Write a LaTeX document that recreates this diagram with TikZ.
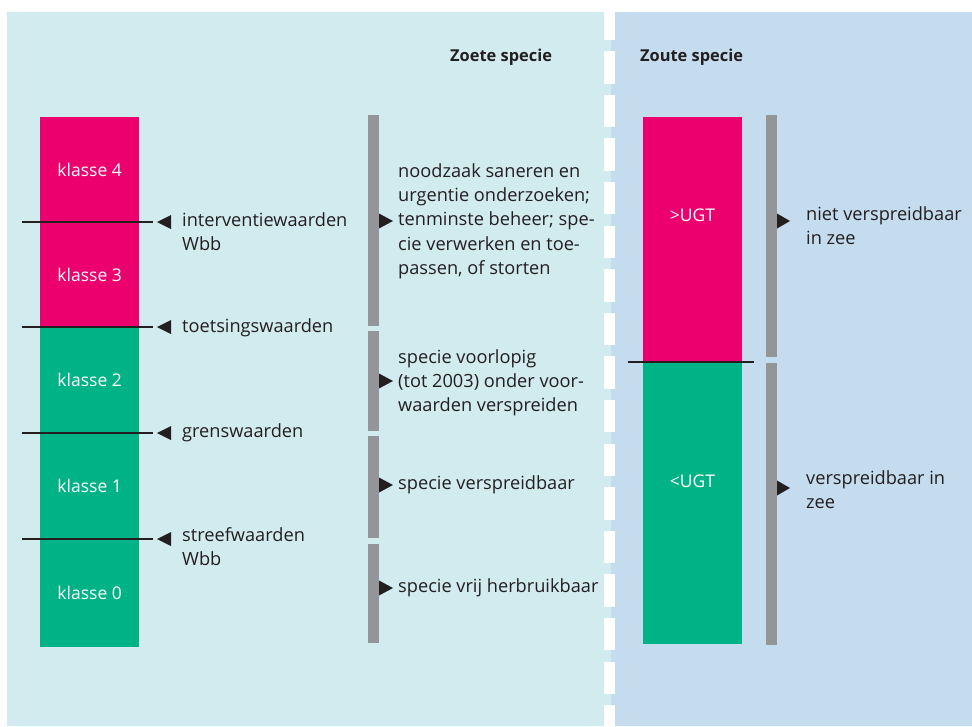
\documentclass[tikz,border=0pt]{standalone}
\usepackage{fontspec}
\setmainfont{Open Sans}
\definecolor{panelL}{HTML}{D2EBEF}
\definecolor{panelR}{HTML}{C5DBEE}
\definecolor{mag}{HTML}{EC006E}
\definecolor{grn}{HTML}{00B386}
\definecolor{gbar}{HTML}{939598}
\definecolor{ink}{HTML}{231F20}
\newcommand{\mylines}[1]{\begin{tabular}[t]{@{}l@{}}#1\end{tabular}}
\tikzset{
  seg/.style={minimum width=99pt, inner sep=0pt, text=white, font=\fontsize{17.5}{24}\selectfont},
  segtxt/.style={inner sep=0pt, text=white, font=\fontsize{17.5}{24}\selectfont},
  lbl/.style={anchor=base west, inner sep=0pt, text=ink, font=\fontsize{18.2}{24.2}\selectfont},
  head/.style={anchor=base west, inner sep=0pt, text=ink, font=\bfseries\fontsize{16.4}{20}\selectfont},
  thr/.style={ink, line width=2pt},
  tri/.style={fill=ink},
  gb/.style={fill=gbar}
}
\begin{document}
\begin{tikzpicture}[x=1pt,y=-1pt]
\path[use as bounding box] (0,0) rectangle (972,726);
\fill[panelL] (7,12) rectangle (611,726);
\fill[panelR] (611,12) rectangle (972,726);
\draw[white, line width=11pt, dash pattern=on 32.5pt off 11.1pt] (609.5,7.5) -- (609.5,726);
% headings
\node[head] (hz) at (450,61) {Zoete specie};
\node[head] (hzo) at (640,61) {Zoute specie};
% left bar
\node[seg, fill=mag, minimum height=105pt, anchor=north west] (k4) at (40,117) {klasse 4};
\node[seg, fill=mag, minimum height=105pt, anchor=north west] (k3) at (40,222) {klasse 3};
\node[seg, fill=grn, minimum height=106pt, anchor=north west] (k2) at (40,327) {klasse 2};
\node[seg, fill=grn, minimum height=106pt, anchor=north west] (k1) at (40,433) {klasse 1};
\node[seg, fill=grn, minimum height=108pt, anchor=north west] (k0) at (40,539) {klasse 0};
% thresholds
\foreach \y in {222,327,433,539}{
  \draw[thr] (22,\y) -- (153,\y);
  \fill[tri] (157,\y) -- (171,\y-7) -- (171,\y+7) -- cycle;
}
\node[lbl] (la) at (182,226) {\mylines{interventiewaarden\\Wbb}};
\node[lbl] (lb) at (182,332) {toetsingswaarden};
\node[lbl] (lc) at (182,437) {grenswaarden};
\node[lbl] (ld) at (182,541) {\mylines{streefwaarden\\Wbb}};
% zoete grey bar
\fill[gb] (368,115) rectangle (379,326);
\fill[gb] (368,331) rectangle (379,431);
\fill[gb] (368,436) rectangle (379,538);
\fill[gb] (368,544) rectangle (379,643);
\foreach \y in {221,381,485,588}{
  \fill[tri] (393,\y) -- (379,\y-7.5) -- (379,\y+7.5) -- cycle;
}
\node[lbl] (z1) at (398,177.5) {\mylines{noodzaak saneren en\\urgentie onderzoeken;\\tenminste beheer; spe-\\cie verwerken en toe-\\passen, of storten}};
\node[lbl] (z2) at (398,363) {\mylines{specie voorlopig\\(tot 2003) onder voor-\\waarden verspreiden}};
\node[lbl] (z3) at (398,489) {specie verspreidbaar};
\node[lbl] (z4) at (398,592) {specie vrij herbruikbaar};
% right bar
\fill[mag] (643,117) rectangle (742,362);
\fill[grn] (643,362) rectangle (742,644);
\node[segtxt] (u1) at (692.5,215) {>UGT};
\node[segtxt] (u2) at (692.5,481) {<UGT};
\draw[thr] (628,362) -- (754,362);
\fill[gb] (766,115) rectangle (777,357);
\fill[gb] (766,363) rectangle (777,645);
\foreach \y in {221,488}{
  \fill[tri] (790,\y) -- (777,\y-7.5) -- (777,\y+7.5) -- cycle;
}
\node[lbl] (r1) at (806,220) {\mylines{niet verspreidbaar\\in zee}};
\node[lbl] (r2) at (806,484) {\mylines{verspreidbaar in\\zee}};
\end{tikzpicture}
\end{document}
